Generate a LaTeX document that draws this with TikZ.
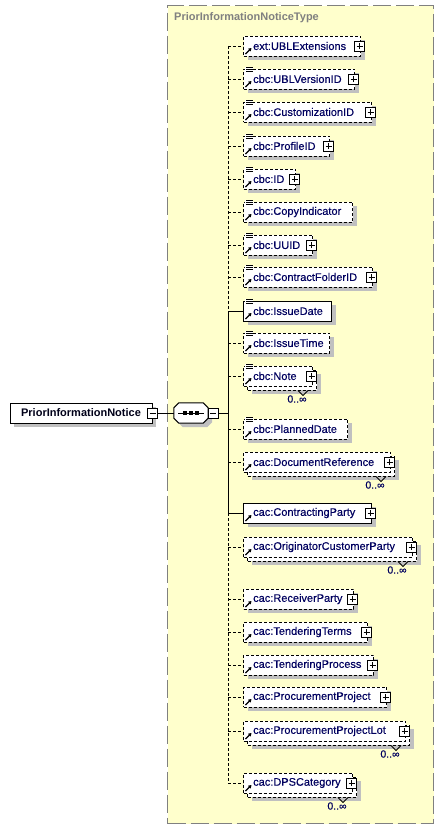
\documentclass[tikz,border=0pt]{standalone}
\usepackage{fontspec}
\setmainfont{Liberation Sans}
\newfontfamily\elemfont{Liberation Sans}[BoldFont={Liberation Sans}, BoldFeatures={FakeBold=0.25}]
\usetikzlibrary{shadows,arrows.meta}
\definecolor{bgyellow}{RGB}{255,255,204}
\definecolor{bordergray}{RGB}{128,128,128}
\definecolor{shadowgray}{RGB}{192,192,192}
\definecolor{elemblue}{RGB}{0,0,95}
\definecolor{titlegray}{RGB}{128,128,128}
\tikzset{
  elembox/.style={draw=black, fill=white, line width=1pt, minimum height=20pt, inner sep=0pt},
  optbox/.style={elembox, dash pattern=on 3pt off 2pt},
  reqbox/.style={elembox},
  withshadow/.style={drop shadow={shadow xshift=4pt, shadow yshift=-4pt, fill=shadowgray, opacity=1}},
  elemtext/.style={text=elemblue, font=\elemfont\bfseries\fontsize{11}{13}\selectfont, inner sep=0pt, anchor=west},
  optline/.style={draw=black, line width=1pt, dash pattern=on 3pt off 2pt},
  reqline/.style={draw=black, line width=1pt},
  pmbox/.style={draw=black, fill=white, line width=0.8pt, minimum size=10pt, inner sep=0pt},
  pmline/.style={draw=black, line width=0.9pt},
  iconline/.style={draw=black, line width=0.8pt},
  refarrow/.style={draw=black, line width=1.2pt, -{Triangle[length=3pt,width=3.6pt]}},
  chev/.style={draw=black, line width=0.8pt},
  mult/.style={text=elemblue, font=\elemfont\bfseries\fontsize{10.5}{12}\selectfont, inner sep=0pt},
  pinbox/.style={draw=black, fill=white, line width=1pt, minimum width=142pt, minimum height=20pt, inner sep=0pt, font=\bfseries\fontsize{11}{13}\selectfont, text=black!90!blue},
  seqarea/.style={minimum width=34pt, minimum height=20pt, inner sep=0pt},
  seqshape/.style={draw=black, fill=white, line width=1pt},
  seqshadow/.style={fill=shadowgray, transform canvas={shift={(4pt,-4pt)}}},
  typebox/.style={draw=bordergray, fill=bgyellow, line width=1pt, dash pattern=on 18pt off 5pt},
  typetitle/.style={text=titlegray, font=\bfseries\fontsize{11}{13}\selectfont, inner sep=0pt, anchor=west},
}
\newcommand\pmsign[2]{%
  \draw[pmline] ([xshift=-3pt]#1.center) -- ([xshift=3pt]#1.center);
  \ifnum#2=1 \draw[pmline] ([yshift=-3pt]#1.center) -- ([yshift=3pt]#1.center);\fi}
\newcommand\octpath[1]{([xshift=5pt]#1.north west) -- ([xshift=-5pt]#1.north east) -- ([yshift=-5pt]#1.north east) -- ([yshift=5pt]#1.south east) -- ([xshift=-5pt]#1.south east) -- ([xshift=5pt]#1.south west) -- ([yshift=5pt]#1.south west) -- ([yshift=-5pt]#1.north west) -- cycle}
% #1 name, #2 y, #3 right x, #4 text, #5 box style, #6 line style, #7 lines icon, #8 plus, #9 multiple
\newcommand\xsdelem[9]{%
  \pgfmathsetmacro\ew{#3-243}%
  \coordinate (b#1) at (228,#2);
  \ifnum#9=1
    \node[#5, withshadow, minimum width=\ew pt, anchor=west] (#1back) at (247,#2+4) {};
    \draw[chev] ([xshift=-19pt]#1back.south east) -- ++(5,5) -- ++(5,-5);
    \node[mult] (#1m) at (#3-15,#2+23) {0..∞};
    \node[#5, minimum width=\ew pt, anchor=west] (#1) at (243,#2) {};
  \else
    \node[#5, withshadow, minimum width=\ew pt, anchor=west] (#1) at (243,#2) {};
  \fi
  \node[elemtext] (#1t) at ([xshift=10pt]#1.west) {#4};
  \ifnum#7=1
    \fill[white] ([shift={(2pt,2pt)}]#1.north west) rectangle ([shift={(9.5pt,-4pt)}]#1.north west);
    \draw[iconline] ([shift={(3pt,1.2pt)}]#1.north west) -- ++(6.5,0);
    \draw[iconline] ([shift={(3pt,-0.8pt)}]#1.north west) -- ++(6.5,0);
    \draw[iconline] ([shift={(3pt,-2.8pt)}]#1.north west) -- ++(6.5,0);
  \fi
  \draw[refarrow] ([shift={(2.5pt,2.5pt)}]#1.south west) -- ([shift={(8.5pt,8.5pt)}]#1.south west);
  \ifnum#8=1
    \node[pmbox] (#1p) at ([xshift=-1.5pt]#1.east) {};
    \pmsign{#1p}{1}
  \fi
  \draw[#6] (b#1) -- (#1.west);
}
\begin{document}
\begin{tikzpicture}[x=1pt,y=-1pt]
\useasboundingbox (0,0) rectangle (447,839);
\node[typebox, minimum width=266pt, minimum height=818pt, anchor=north west, inner sep=0pt] (type) at (167,5) {};
\node[typetitle] (title) at (174,18) {PriorInformationNoticeType};

\xsdelem{e1}{46}{360}{ext:UBLExtensions}{optbox}{optline}{0}{1}{0}
\xsdelem{e2}{79}{354}{cbc:UBLVersionID}{optbox}{optline}{1}{1}{0}
\xsdelem{e3}{112}{371}{cbc:CustomizationID}{optbox}{optline}{1}{1}{0}
\xsdelem{e4}{146}{329}{cbc:ProfileID}{optbox}{optline}{1}{1}{0}
\xsdelem{e5}{179}{295}{cbc:ID}{optbox}{optline}{1}{1}{0}
\xsdelem{e6}{212}{352}{cbc:CopyIndicator}{optbox}{optline}{1}{0}{0}
\xsdelem{e7}{245}{312}{cbc:UUID}{optbox}{optline}{1}{1}{0}
\xsdelem{e8}{277}{372}{cbc:ContractFolderID}{optbox}{optline}{1}{1}{0}
\xsdelem{e9}{311}{331}{cbc:IssueDate}{reqbox}{reqline}{1}{0}{0}
\xsdelem{e10}{343}{329}{cbc:IssueTime}{optbox}{optline}{1}{0}{0}
\xsdelem{e11}{376}{312}{cbc:Note}{optbox}{optline}{1}{1}{1}
\xsdelem{e12}{429}{347}{cbc:PlannedDate}{optbox}{optline}{1}{0}{0}
\xsdelem{e13}{462}{390}{cac:DocumentReference}{optbox}{optline}{0}{1}{1}
\xsdelem{e14}{513}{371}{cac:ContractingParty}{reqbox}{reqline}{0}{1}{0}
\xsdelem{e15}{547}{412}{cac:OriginatorCustomerParty}{optbox}{optline}{0}{1}{1}
\xsdelem{e16}{599}{353}{cac:ReceiverParty}{optbox}{optline}{0}{1}{0}
\xsdelem{e17}{632}{367}{cac:TenderingTerms}{optbox}{optline}{0}{1}{0}
\xsdelem{e18}{665}{373}{cac:TenderingProcess}{optbox}{optline}{0}{1}{0}
\xsdelem{e19}{697}{386}{cac:ProcurementProject}{optbox}{optline}{0}{1}{0}
\xsdelem{e20}{731}{405}{cac:ProcurementProjectLot}{optbox}{optline}{0}{1}{1}
\xsdelem{e21}{783}{352}{cac:DPSCategory}{optbox}{optline}{0}{1}{1}

% vertical bus
\coordinate (busmid) at (228,413);
\draw[optline] (be1) -- (be9);
\draw[reqline] (be9) -- (be14);
\draw[optline] (be14) -- (be21);

% root element and sequence compositor
\node[pinbox, withshadow] (pin) at (81,413) {PriorInformationNotice};
\node[pmbox] (pinm) at (pin.east) {};
\pmsign{pinm}{0}
\node[seqarea] (seq) at (191,413) {};
\fill[seqshadow] \octpath{seq};
\draw[seqshape] \octpath{seq};
\draw[reqline] ([xshift=-13pt]seq.center) -- ([xshift=13pt]seq.center);
\foreach \dx in {-6,0,6}{
  \fill[black] ([xshift=\dx pt]seq.center) +(-1.6pt,-1.6pt) rectangle +(1.6pt,1.6pt);
}
\node[pmbox] (seqm) at (213,413) {};
\pmsign{seqm}{0}
\draw[reqline] (pinm.east) -- (seq.west);
\draw[reqline] (seqm.east) -- (busmid);
\end{tikzpicture}
\end{document}
